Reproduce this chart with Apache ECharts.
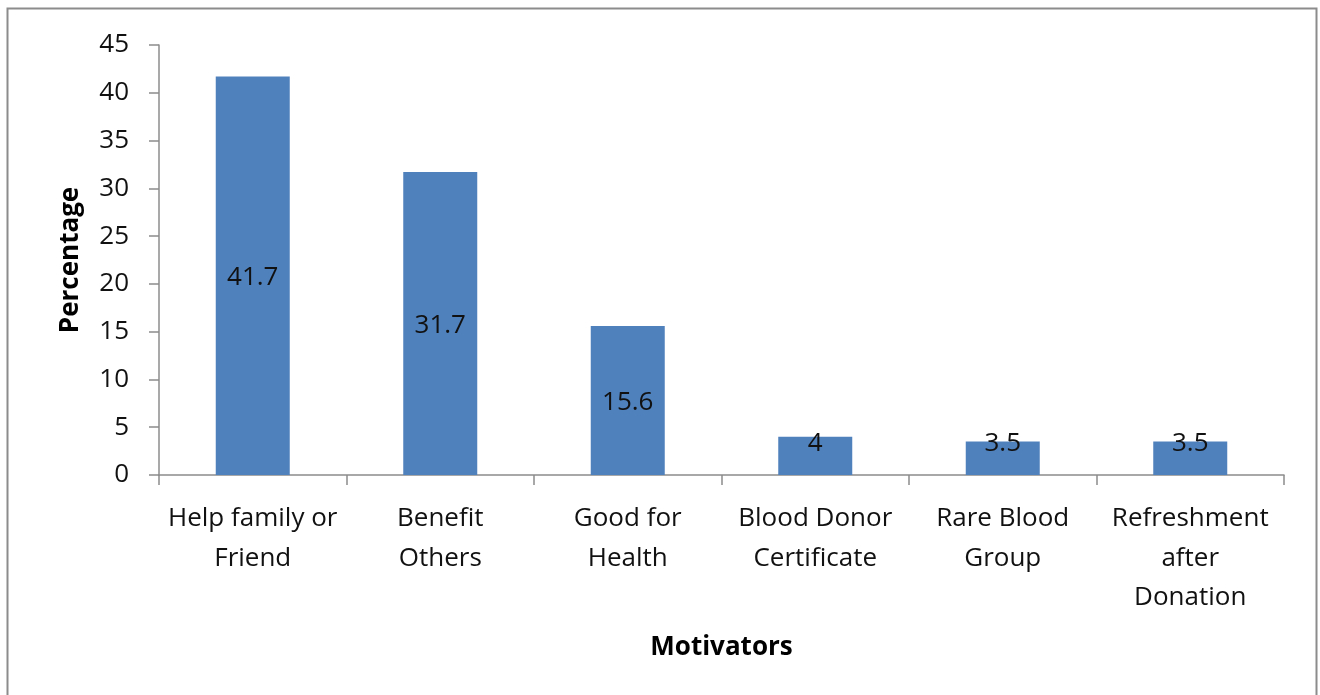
<!DOCTYPE html>
<html><head><meta charset="utf-8">
<script src="https://cdn.jsdelivr.net/npm/echarts@6/dist/echarts.min.js"></script>
<style>html,body{margin:0;padding:0;background:#fff}#c{width:1320px;height:695px}</style>
</head><body><div id="c"></div>
<script>
const categories = ["Help family or\nFriend", "Benefit\nOthers", "Good for\nHealth", "Blood Donor\nCertificate", "Rare Blood\nGroup", "Refreshment\nafter\nDonation"];
const values = [41.7, 31.7, 15.6, 4, 3.5, 3.5];
const yTicks = [0, 5, 10, 15, 20, 25, 30, 35, 40, 45];
const xTitle = "Motivators";
const yTitle = "Percentage";

const FONT = "'Open Sans', sans-serif";
const FS = 26;
const chart = echarts.init(document.getElementById('c'), null, {renderer: 'canvas'});
chart.setOption({
  animation: false,
  graphic: [{
    type: 'rect', shape: {x: 7.5, y: 8.5, width: 1309, height: 700},
    style: {fill: 'none', stroke: '#8c8c8c', lineWidth: 2}, z: 100
  }],
  grid: {left: 159, right: 36, top: 45, bottom: 220},
  xAxis: {
    type: 'category', data: categories,
    name: xTitle, nameLocation: 'middle', nameGap: 160,
    nameTextStyle: {fontFamily: FONT, fontSize: FS, fontWeight: 'bold', color: '#000'},
    axisLine: {lineStyle: {color: '#8c8c8c', width: 1.5}},
    axisTick: {show: true, length: 10, lineStyle: {color: '#8c8c8c', width: 1.5}},
    axisLabel: {fontFamily: FONT, fontSize: FS, color: '#111', lineHeight: 39.5, margin: 24, interval: 0}
  },
  yAxis: {
    type: 'value', min: yTicks[0], max: yTicks[yTicks.length - 1], interval: yTicks[1] - yTicks[0],
    name: yTitle, nameLocation: 'middle', nameGap: 75,
    nameTextStyle: {fontFamily: FONT, fontSize: FS, fontWeight: 'bold', color: '#000'},
    axisLine: {show: true, lineStyle: {color: '#8c8c8c', width: 1.5}},
    axisTick: {show: true, length: 10, lineStyle: {color: '#8c8c8c', width: 1.5}},
    splitLine: {show: false},
    axisLabel: {fontFamily: FONT, fontSize: FS, color: '#111', margin: 30}
  },
  series: [{
    type: 'bar',
    data: values.map(v => ({value: v, label: v < 5 ? {position: 'insideBottom', distance: 18} : {offset: [0, 2]}})),
    barWidth: 74,
    itemStyle: {color: '#4F81BD'},
    label: {show: true, position: 'inside', fontFamily: FONT, fontSize: FS, color: '#111'}
  }]
});
</script></body></html>
